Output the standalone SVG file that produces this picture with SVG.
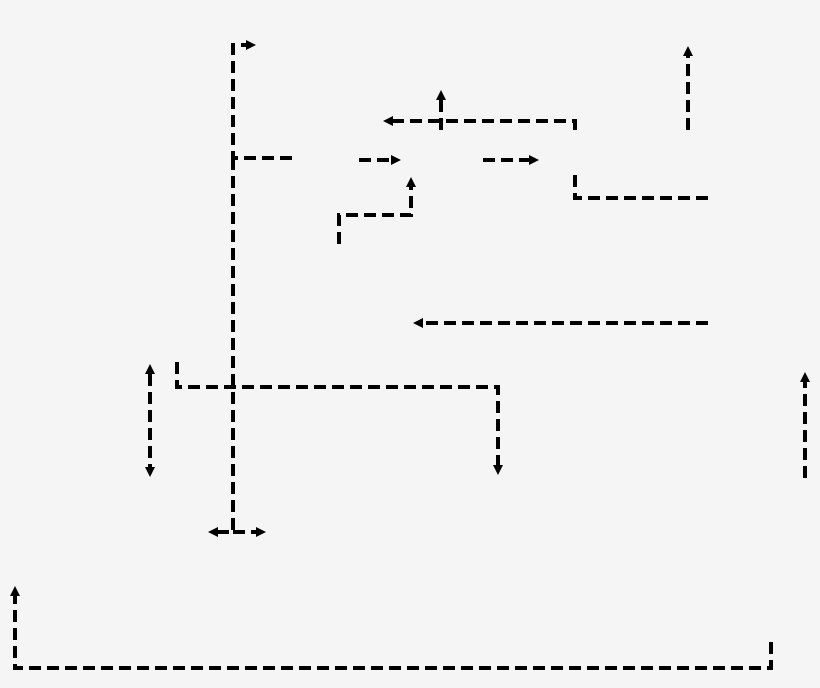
<svg xmlns="http://www.w3.org/2000/svg" width="820" height="688" viewBox="0 0 820 688">
<style>
.c{fill:none;stroke:#000;stroke-width:4;stroke-dasharray:12 6;stroke-linejoin:miter;stroke-linecap:butt;marker-end:url(#ah)}
.n{marker-end:none}
.b{marker-start:url(#ah)}
</style>
<defs>
<marker id="ah" viewBox="0 0 10 10" refX="0" refY="5" markerWidth="11" markerHeight="10" markerUnits="userSpaceOnUse" orient="auto-start-reverse">
<path d="M0,0 L10,5 L0,10 z" fill="#000"/>
</marker>
</defs>
<rect width="820" height="688" fill="#f5f5f5"/>
<g id="connectors">
<path class="c" d="M292,158 H233 V45 H246"/>
<path class="c" d="M233,158 V532 H218"/>
<path class="c" d="M233,532 H256"/>
<path class="c" d="M177,362 V387 H498 V465"/>
<path class="c b" d="M150,374 V467"/>
<path class="c" d="M575,130 V121 H393"/>
<path class="c" d="M441,130 V100"/>
<path class="c" d="M359,160 H391"/>
<path class="c" d="M483,160 H529"/>
<path class="c" d="M339,244 V215 H411 V187"/>
<path class="c n" d="M575,175 V198 H708"/>
<path class="c" d="M688,130 V56"/>
<path class="c" d="M708,323 H423"/>
<path class="c" d="M805,478 V382"/>
<path class="c" d="M771,642 V668 H15 V596"/>
</g>
</svg>
